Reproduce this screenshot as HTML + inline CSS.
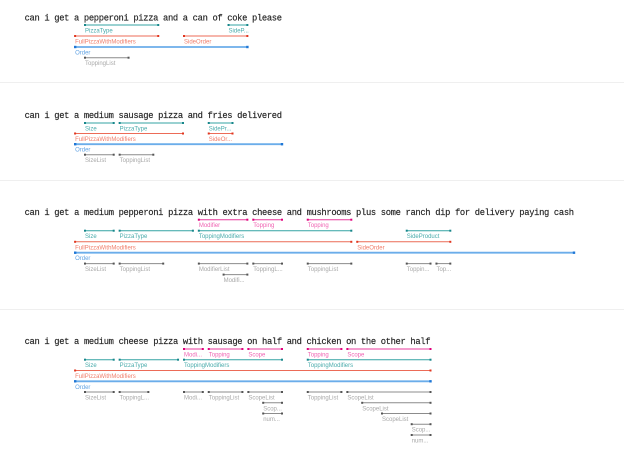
<!DOCTYPE html>
<html><head><meta charset="utf-8"><style>
html,body{margin:0;padding:0;background:#fff;}
svg{display:block;}
.s{font-family:"Liberation Mono",monospace;font-size:8.8px;fill:#222;stroke:#222;stroke-width:0.15px;}
.lb{font-family:"Liberation Sans",sans-serif;font-size:6px;}
.t{stroke:#33a3a3;stroke-width:1}.tm{fill:#17868a}.tl{fill:#48abab}
.r{stroke:#ec6b57;stroke-width:1}.rm{fill:#e0361f}.rl{fill:#f07d6a}
.b{stroke:#6badea;stroke-width:1.8}.bm{fill:#1f77d6}.bl{fill:#62a3e3}
.p{stroke:#e8399c;stroke-width:1}.pm{fill:#e0007c}.pl{fill:#f062b2}
.g{stroke:#8c8c8c;stroke-width:1}.gm{fill:#555}.gl{fill:#a8a8a8}
.sep{stroke:#efefef;stroke-width:1}
</style></head><body>
<svg width="624" height="471" viewBox="0 0 624 471" xmlns="http://www.w3.org/2000/svg">
<line class="sep" x1="0" y1="82.5" x2="624" y2="82.5"/>
<line class="sep" x1="0" y1="180.5" x2="624" y2="180.5"/>
<line class="sep" x1="0" y1="309.5" x2="624" y2="309.5"/>

<!-- Block 1 -->
<text class="s" x="24.6" y="20.5" textLength="257.4" lengthAdjust="spacing">can i get a pepperoni pizza and a can of coke please</text>
<line class="t" x1="85" y1="25" x2="158.25" y2="25"/><rect class="tm" x="84" y="24" width="2" height="2"/><rect class="tm" x="157.25" y="24" width="2" height="2"/><text class="lb tl" x="85" y="32.5">PizzaType</text>
<line class="t" x1="228.55" y1="25" x2="247.35" y2="25"/><rect class="tm" x="227.55" y="24" width="2" height="2"/><rect class="tm" x="246.35" y="24" width="2" height="2"/><text class="lb tl" x="228.55" y="32.5">SideP...</text>
<line class="r" x1="75.1" y1="36" x2="158.25" y2="36"/><rect class="rm" x="74.1" y="35" width="2" height="2"/><rect class="rm" x="157.25" y="35" width="2" height="2"/><text class="lb rl" x="75.1" y="43.5">FullPizzaWithModifiers</text>
<line class="r" x1="184" y1="36" x2="247.35" y2="36"/><rect class="rm" x="183" y="35" width="2" height="2"/><rect class="rm" x="246.35" y="35" width="2" height="2"/><text class="lb rl" x="184" y="43.5">SideOrder</text>
<line class="b" x1="75.1" y1="47" x2="247.35" y2="47"/><rect class="bm" x="74" y="45.8" width="2.4" height="2.4"/><rect class="bm" x="246.2" y="45.8" width="2.4" height="2.4"/><text class="lb bl" x="75.1" y="54.5">Order</text>
<line class="g" x1="85" y1="57.7" x2="128.55" y2="57.7"/><rect class="gm" x="84" y="56.7" width="2" height="2"/><rect class="gm" x="127.55" y="56.7" width="2" height="2"/><text class="lb gl" x="85" y="65.2">ToppingList</text>

<!-- Block 2 -->
<text class="s" x="24.6" y="118" textLength="257.4" lengthAdjust="spacing">can i get a medium sausage pizza and fries delivered</text>
<line class="t" x1="85" y1="123" x2="113.7" y2="123"/><rect class="tm" x="84" y="122" width="2" height="2"/><rect class="tm" x="112.7" y="122" width="2" height="2"/><text class="lb tl" x="85" y="130.5">Size</text>
<line class="t" x1="119.65" y1="123" x2="183" y2="123"/><rect class="tm" x="118.65" y="122" width="2" height="2"/><rect class="tm" x="182" y="122" width="2" height="2"/><text class="lb tl" x="119.65" y="130.5">PizzaType</text>
<line class="t" x1="208.75" y1="123" x2="232.5" y2="123"/><rect class="tm" x="207.75" y="122" width="2" height="2"/><rect class="tm" x="231.5" y="122" width="2" height="2"/><text class="lb tl" x="208.75" y="130.5">SidePr...</text>
<line class="r" x1="75.1" y1="133.5" x2="183" y2="133.5"/><rect class="rm" x="74.1" y="132.5" width="2" height="2"/><rect class="rm" x="182" y="132.5" width="2" height="2"/><text class="lb rl" x="75.1" y="141">FullPizzaWithModifiers</text>
<line class="r" x1="208.75" y1="133.5" x2="232.5" y2="133.5"/><rect class="rm" x="207.75" y="132.5" width="2" height="2"/><rect class="rm" x="231.5" y="132.5" width="2" height="2"/><text class="lb rl" x="208.75" y="141">SideOr...</text>
<line class="b" x1="75.1" y1="144.2" x2="282" y2="144.2"/><rect class="bm" x="74" y="143" width="2.4" height="2.4"/><rect class="bm" x="280.8" y="143" width="2.4" height="2.4"/><text class="lb bl" x="75.1" y="151.7">Order</text>
<line class="g" x1="85" y1="154.7" x2="113.7" y2="154.7"/><rect class="gm" x="84" y="153.7" width="2" height="2"/><rect class="gm" x="112.7" y="153.7" width="2" height="2"/><text class="lb gl" x="85" y="162.2">SizeList</text>
<line class="g" x1="119.65" y1="154.7" x2="153.3" y2="154.7"/><rect class="gm" x="118.65" y="153.7" width="2" height="2"/><rect class="gm" x="152.3" y="153.7" width="2" height="2"/><text class="lb gl" x="119.65" y="162.2">ToppingList</text>

<!-- Block 3 -->
<text class="s" x="24.6" y="215" textLength="549.45" lengthAdjust="spacing">can i get a medium pepperoni pizza with extra cheese and mushrooms plus some ranch dip for delivery paying cash</text>
<line class="p" x1="198.85" y1="219.7" x2="247.35" y2="219.7"/><rect class="pm" x="197.85" y="218.7" width="2" height="2"/><rect class="pm" x="246.35" y="218.7" width="2" height="2"/><text class="lb pl" x="198.85" y="227.2">Modifier</text>
<line class="p" x1="253.3" y1="219.7" x2="282" y2="219.7"/><rect class="pm" x="252.3" y="218.7" width="2" height="2"/><rect class="pm" x="281" y="218.7" width="2" height="2"/><text class="lb pl" x="253.3" y="227.2">Topping</text>
<line class="p" x1="307.75" y1="219.7" x2="351.3" y2="219.7"/><rect class="pm" x="306.75" y="218.7" width="2" height="2"/><rect class="pm" x="350.3" y="218.7" width="2" height="2"/><text class="lb pl" x="307.75" y="227.2">Topping</text>
<line class="t" x1="85" y1="230.7" x2="113.7" y2="230.7"/><rect class="tm" x="84" y="229.7" width="2" height="2"/><rect class="tm" x="112.7" y="229.7" width="2" height="2"/><text class="lb tl" x="85" y="238.2">Size</text>
<line class="t" x1="119.65" y1="230.7" x2="192.9" y2="230.7"/><rect class="tm" x="118.65" y="229.7" width="2" height="2"/><rect class="tm" x="191.9" y="229.7" width="2" height="2"/><text class="lb tl" x="119.65" y="238.2">PizzaType</text>
<line class="t" x1="198.85" y1="230.7" x2="351.3" y2="230.7"/><rect class="tm" x="197.85" y="229.7" width="2" height="2"/><rect class="tm" x="350.3" y="229.7" width="2" height="2"/><text class="lb tl" x="198.85" y="238.2">ToppingModifiers</text>
<line class="t" x1="406.75" y1="230.7" x2="450.3" y2="230.7"/><rect class="tm" x="405.75" y="229.7" width="2" height="2"/><rect class="tm" x="449.3" y="229.7" width="2" height="2"/><text class="lb tl" x="406.75" y="238.2">SideProduct</text>
<line class="r" x1="75.1" y1="241.8" x2="351.3" y2="241.8"/><rect class="rm" x="74.1" y="240.8" width="2" height="2"/><rect class="rm" x="350.3" y="240.8" width="2" height="2"/><text class="lb rl" x="75.1" y="249.3">FullPizzaWithModifiers</text>
<line class="r" x1="357.25" y1="241.8" x2="450.3" y2="241.8"/><rect class="rm" x="356.25" y="240.8" width="2" height="2"/><rect class="rm" x="449.3" y="240.8" width="2" height="2"/><text class="lb rl" x="357.25" y="249.3">SideOrder</text>
<line class="b" x1="75.1" y1="252.7" x2="574" y2="252.7"/><rect class="bm" x="74" y="251.5" width="2.4" height="2.4"/><rect class="bm" x="572.8" y="251.5" width="2.4" height="2.4"/><text class="lb bl" x="75.1" y="260.2">Order</text>
<line class="g" x1="85" y1="263.6" x2="113.7" y2="263.6"/><rect class="gm" x="84" y="262.6" width="2" height="2"/><rect class="gm" x="112.7" y="262.6" width="2" height="2"/><text class="lb gl" x="85" y="271.1">SizeList</text>
<line class="g" x1="119.65" y1="263.6" x2="163.2" y2="263.6"/><rect class="gm" x="118.65" y="262.6" width="2" height="2"/><rect class="gm" x="162.2" y="262.6" width="2" height="2"/><text class="lb gl" x="119.65" y="271.1">ToppingList</text>
<line class="g" x1="198.85" y1="263.6" x2="247.35" y2="263.6"/><rect class="gm" x="197.85" y="262.6" width="2" height="2"/><rect class="gm" x="246.35" y="262.6" width="2" height="2"/><text class="lb gl" x="198.85" y="271.1">ModifierList</text>
<line class="g" x1="253.3" y1="263.6" x2="282" y2="263.6"/><rect class="gm" x="252.3" y="262.6" width="2" height="2"/><rect class="gm" x="281" y="262.6" width="2" height="2"/><text class="lb gl" x="253.3" y="271.1">ToppingL...</text>
<line class="g" x1="307.75" y1="263.6" x2="351.3" y2="263.6"/><rect class="gm" x="306.75" y="262.6" width="2" height="2"/><rect class="gm" x="350.3" y="262.6" width="2" height="2"/><text class="lb gl" x="307.75" y="271.1">ToppingList</text>
<line class="g" x1="406.75" y1="263.6" x2="430.5" y2="263.6"/><rect class="gm" x="405.75" y="262.6" width="2" height="2"/><rect class="gm" x="429.5" y="262.6" width="2" height="2"/><text class="lb gl" x="406.75" y="271.1">Toppin...</text>
<line class="g" x1="436.45" y1="263.6" x2="450.3" y2="263.6"/><rect class="gm" x="435.45" y="262.6" width="2" height="2"/><rect class="gm" x="449.3" y="262.6" width="2" height="2"/><text class="lb gl" x="436.45" y="271.1">Top...</text>
<line class="g" x1="223.6" y1="274.6" x2="247.35" y2="274.6"/><rect class="gm" x="222.6" y="273.6" width="2" height="2"/><rect class="gm" x="246.35" y="273.6" width="2" height="2"/><text class="lb gl" x="223.6" y="282.1">Modifi...</text>

<!-- Block 4 -->
<text class="s" x="24.6" y="344" textLength="405.9" lengthAdjust="spacing">can i get a medium cheese pizza with sausage on half and chicken on the other half</text>
<line class="p" x1="184" y1="349" x2="202.8" y2="349"/><rect class="pm" x="183" y="348" width="2" height="2"/><rect class="pm" x="201.8" y="348" width="2" height="2"/><text class="lb pl" x="184" y="356.5">Modi...</text>
<line class="p" x1="208.75" y1="349" x2="242.4" y2="349"/><rect class="pm" x="207.75" y="348" width="2" height="2"/><rect class="pm" x="241.4" y="348" width="2" height="2"/><text class="lb pl" x="208.75" y="356.5">Topping</text>
<line class="p" x1="248.35" y1="349" x2="282" y2="349"/><rect class="pm" x="247.35" y="348" width="2" height="2"/><rect class="pm" x="281" y="348" width="2" height="2"/><text class="lb pl" x="248.35" y="356.5">Scope</text>
<line class="p" x1="307.75" y1="349" x2="341.4" y2="349"/><rect class="pm" x="306.75" y="348" width="2" height="2"/><rect class="pm" x="340.4" y="348" width="2" height="2"/><text class="lb pl" x="307.75" y="356.5">Topping</text>
<line class="p" x1="347.35" y1="349" x2="430.5" y2="349"/><rect class="pm" x="346.35" y="348" width="2" height="2"/><rect class="pm" x="429.5" y="348" width="2" height="2"/><text class="lb pl" x="347.35" y="356.5">Scope</text>
<line class="t" x1="85" y1="359.7" x2="113.7" y2="359.7"/><rect class="tm" x="84" y="358.7" width="2" height="2"/><rect class="tm" x="112.7" y="358.7" width="2" height="2"/><text class="lb tl" x="85" y="367.2">Size</text>
<line class="t" x1="119.65" y1="359.7" x2="178.05" y2="359.7"/><rect class="tm" x="118.65" y="358.7" width="2" height="2"/><rect class="tm" x="177.05" y="358.7" width="2" height="2"/><text class="lb tl" x="119.65" y="367.2">PizzaType</text>
<line class="t" x1="184" y1="359.7" x2="282" y2="359.7"/><rect class="tm" x="183" y="358.7" width="2" height="2"/><rect class="tm" x="281" y="358.7" width="2" height="2"/><text class="lb tl" x="184" y="367.2">ToppingModifiers</text>
<line class="t" x1="307.75" y1="359.7" x2="430.5" y2="359.7"/><rect class="tm" x="306.75" y="358.7" width="2" height="2"/><rect class="tm" x="429.5" y="358.7" width="2" height="2"/><text class="lb tl" x="307.75" y="367.2">ToppingModifiers</text>
<line class="r" x1="75.1" y1="370.5" x2="430.5" y2="370.5"/><rect class="rm" x="74.1" y="369.5" width="2" height="2"/><rect class="rm" x="429.5" y="369.5" width="2" height="2"/><text class="lb rl" x="75.1" y="378">FullPizzaWithModifiers</text>
<line class="b" x1="75.1" y1="381.3" x2="430.5" y2="381.3"/><rect class="bm" x="74" y="380.1" width="2.4" height="2.4"/><rect class="bm" x="429.3" y="380.1" width="2.4" height="2.4"/><text class="lb bl" x="75.1" y="388.8">Order</text>
<line class="g" x1="85" y1="392" x2="113.7" y2="392"/><rect class="gm" x="84" y="391" width="2" height="2"/><rect class="gm" x="112.7" y="391" width="2" height="2"/><text class="lb gl" x="85" y="399.5">SizeList</text>
<line class="g" x1="119.65" y1="392" x2="148.35" y2="392"/><rect class="gm" x="118.65" y="391" width="2" height="2"/><rect class="gm" x="147.35" y="391" width="2" height="2"/><text class="lb gl" x="119.65" y="399.5">ToppingL...</text>
<line class="g" x1="184" y1="392" x2="202.8" y2="392"/><rect class="gm" x="183" y="391" width="2" height="2"/><rect class="gm" x="201.8" y="391" width="2" height="2"/><text class="lb gl" x="184" y="399.5">Modi...</text>
<line class="g" x1="208.75" y1="392" x2="242.4" y2="392"/><rect class="gm" x="207.75" y="391" width="2" height="2"/><rect class="gm" x="241.4" y="391" width="2" height="2"/><text class="lb gl" x="208.75" y="399.5">ToppingList</text>
<line class="g" x1="248.35" y1="392" x2="282" y2="392"/><rect class="gm" x="247.35" y="391" width="2" height="2"/><rect class="gm" x="281" y="391" width="2" height="2"/><text class="lb gl" x="248.35" y="399.5">ScopeList</text>
<line class="g" x1="307.75" y1="392" x2="341.4" y2="392"/><rect class="gm" x="306.75" y="391" width="2" height="2"/><rect class="gm" x="340.4" y="391" width="2" height="2"/><text class="lb gl" x="307.75" y="399.5">ToppingList</text>
<line class="g" x1="347.35" y1="392" x2="430.5" y2="392"/><rect class="gm" x="346.35" y="391" width="2" height="2"/><rect class="gm" x="429.5" y="391" width="2" height="2"/><text class="lb gl" x="347.35" y="399.5">ScopeList</text>
<line class="g" x1="263.2" y1="402.8" x2="282" y2="402.8"/><rect class="gm" x="262.2" y="401.8" width="2" height="2"/><rect class="gm" x="281" y="401.8" width="2" height="2"/><text class="lb gl" x="263.2" y="410.3">Scop...</text>
<line class="g" x1="362.2" y1="402.8" x2="430.5" y2="402.8"/><rect class="gm" x="361.2" y="401.8" width="2" height="2"/><rect class="gm" x="429.5" y="401.8" width="2" height="2"/><text class="lb gl" x="362.2" y="410.3">ScopeList</text>
<line class="g" x1="263.2" y1="413.5" x2="282" y2="413.5"/><rect class="gm" x="262.2" y="412.5" width="2" height="2"/><rect class="gm" x="281" y="412.5" width="2" height="2"/><text class="lb gl" x="263.2" y="421">num...</text>
<line class="g" x1="382" y1="413.5" x2="430.5" y2="413.5"/><rect class="gm" x="381" y="412.5" width="2" height="2"/><rect class="gm" x="429.5" y="412.5" width="2" height="2"/><text class="lb gl" x="382" y="421">ScopeList</text>
<line class="g" x1="411.7" y1="424.2" x2="430.5" y2="424.2"/><rect class="gm" x="410.7" y="423.2" width="2" height="2"/><rect class="gm" x="429.5" y="423.2" width="2" height="2"/><text class="lb gl" x="411.7" y="431.7">Scop...</text>
<line class="g" x1="411.7" y1="435" x2="430.5" y2="435"/><rect class="gm" x="410.7" y="434" width="2" height="2"/><rect class="gm" x="429.5" y="434" width="2" height="2"/><text class="lb gl" x="411.7" y="442.5">num...</text>
</svg>
</body></html>
